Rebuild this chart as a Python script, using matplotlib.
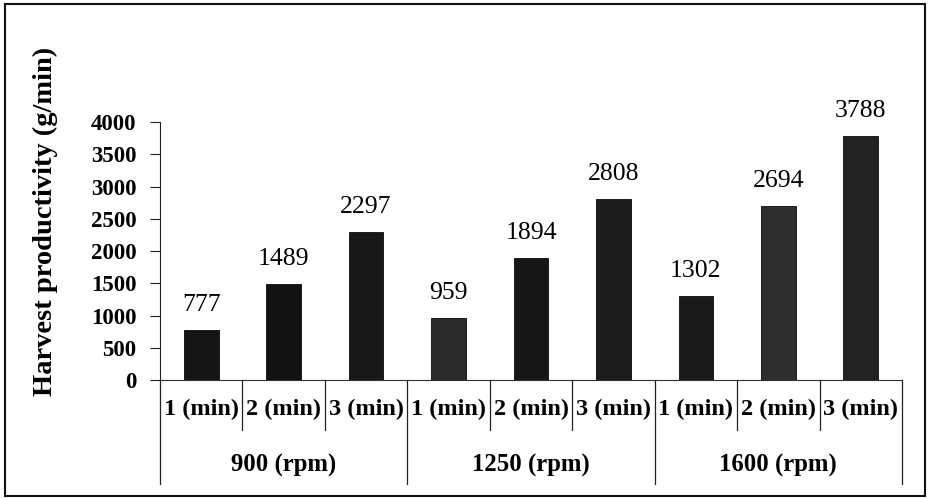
import matplotlib
matplotlib.use("Agg")
import matplotlib.pyplot as plt
from matplotlib.patches import Rectangle
import matplotlib.transforms as mtransforms

# ── Data ──────────────────────────────────────────────────────────────────────
groups      = ["900 (rpm)", "1250 (rpm)", "1600 (rpm)"]
minutes     = ["1 (min)", "2 (min)", "3 (min)"]
values      = [777, 1489, 2297, 959, 1894, 2808, 1302, 2694, 3788]
bar_colors  = ["#151515", "#121212", "#181818", "#2a2a2a", "#161616",
               "#1c1c1c", "#1a1a1a", "#2e2e2e", "#222222"]
y_ticks     = [0, 500, 1000, 1500, 2000, 2500, 3000, 3500, 4000]

SERIF = ["Liberation Serif", "DejaVu Serif"]

fig = plt.figure(figsize=(9.32, 4.98), dpi=100)
ax = fig.add_axes([160 / 932, 1 - 380 / 498, 742 / 932, 258 / 498])

n = len(values)
xs = list(range(n))
ax.bar(xs, values, width=0.42, color=bar_colors, edgecolor="#0a0a0a", linewidth=0.6)

for x, v in zip(xs, values):
    ax.annotate(f"{v}", (x, v), xytext=(0, 10), textcoords="offset points",
                ha="center", va="bottom", fontsize=18.5, family=SERIF)

ax.set_xlim(-0.5, n - 0.5)
ax.set_ylim(0, 4000)
ax.set_yticks(y_ticks)
ax.set_yticklabels([str(t) for t in y_ticks], fontsize=16.5, fontweight="bold", family=SERIF)
ax.tick_params(axis="y", direction="out", length=7, width=0.8, pad=10, color="#222222")
ax.set_xticks([])

for side in ["top", "right"]:
    ax.spines[side].set_visible(False)
ax.spines["left"].set_color("#222222")
ax.spines["bottom"].set_color("#333333")
ax.spines["bottom"].set_linestyle((0, (1, 1)))

ax.set_ylabel("Harvest productivity (g/min)", fontsize=20.5, fontweight="bold",
              family=SERIF)
ax.yaxis.set_label_coords(-0.137, 0.615)

# ── Two-level category axis ──────────────────────────────────────────────────
trans = mtransforms.blended_transform_factory(ax.transData, ax.transAxes)
for i in range(n + 1):
    xb = i - 0.5
    y_end = -0.405 if i % 3 == 0 else -0.195
    ax.plot([xb, xb], [0, y_end], transform=trans, color="#222222",
            linewidth=0.9, clip_on=False)

for i in range(n):
    ax.text(i, -0.115, minutes[i % 3], transform=trans, ha="center", va="center",
            fontsize=17.5, fontweight="bold", family=SERIF)

for g, name in enumerate(groups):
    ax.text(g * 3 + 1, -0.33, name, transform=trans, ha="center", va="center",
            fontsize=17.8, fontweight="bold", family=SERIF)

# ── Outer frame ──────────────────────────────────────────────────────────────
fig.patches.append(Rectangle((5 / 932, 2 / 498), 920 / 932, 492 / 498,
                             transform=fig.transFigure, fill=False,
                             edgecolor="#111111", linewidth=1.5))

fig.savefig("out.png", dpi=100)
